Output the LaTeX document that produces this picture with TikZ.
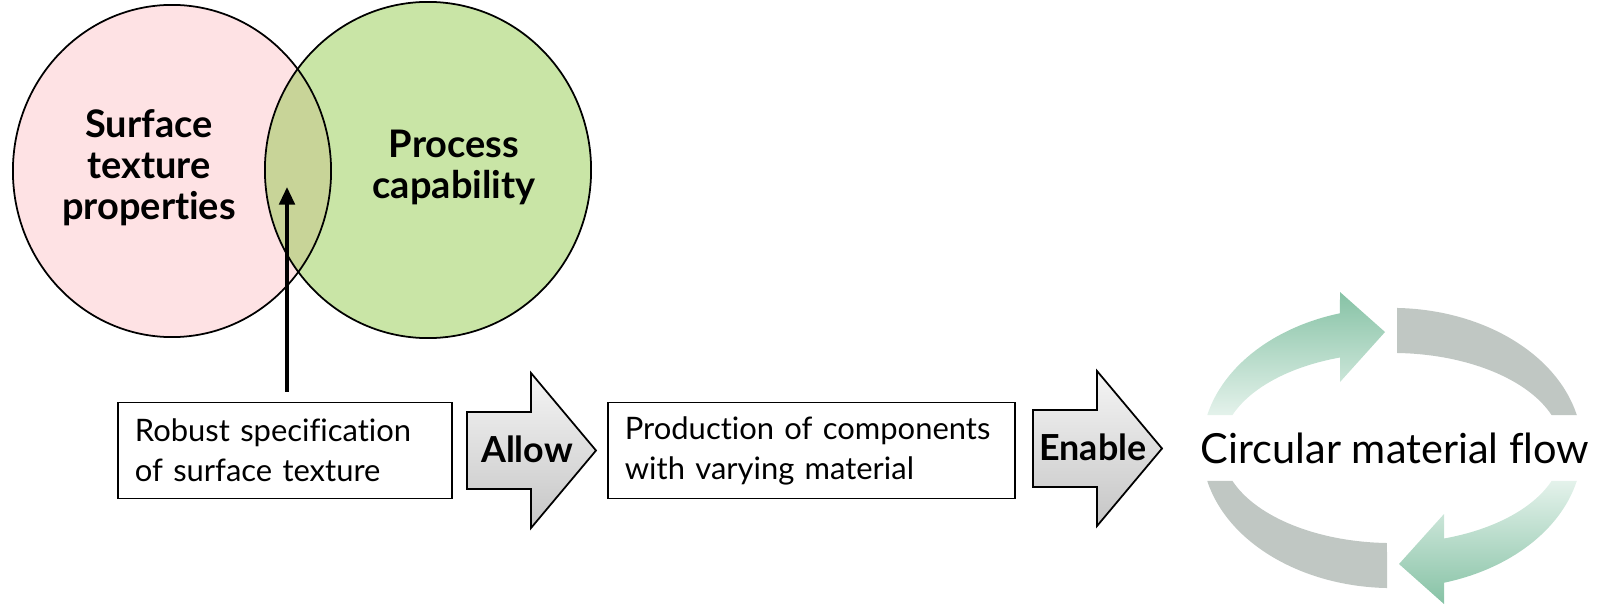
\documentclass[tikz,border=0pt]{standalone}
\usepackage{fontspec}
\setmainfont{Lato}[Ligatures=NoCommon]
\usepackage{tikz}
\usetikzlibrary{arrows.meta}
\definecolor{pinkfill}{RGB}{254,226,228}
\definecolor{greenfill}{RGB}{201,229,166}
\definecolor{overlapfill}{RGB}{200,212,152}
\definecolor{flowgreen}{RGB}{134,194,165}
\definecolor{flowlight}{RGB}{228,242,235}
\definecolor{flowgray}{RGB}{192,199,195}
\tikzset{
  venntext/.style={font=\fontsize{10.8}{11.7}\selectfont\bfseries, align=center},
  specbox/.style={draw, line width=0.5pt, fill=white, align=left, inner xsep=0.17cm,
    minimum height=0.96cm, font=\fontsize{8.8}{11.4}\selectfont},
  arrowtext/.style={font=\fontsize{10.2}{12}\selectfont\bfseries, inner sep=0pt},
  flowtext/.style={font=\fontsize{11.8}{14}\selectfont, inner sep=0pt}
}
% fat arrow: name, tail x, centre y, label
\newcommand{\fatarrow}[4]{\shade[top color=gray!8, bottom color=gray!45, draw=black, line width=0.5pt] ( #2 , #3 + 38.5 ) -- ( #2 + 64 , #3 + 38.5 ) -- ( #2 + 64 , #3 + 77.5 ) -- ( #2 + 129 , #3 ) -- ( #2 + 64 , #3 - 77.5 ) -- ( #2 + 64 , #3 - 38.5 ) -- ( #2 , #3 - 38.5 ) -- cycle; \node[arrowtext] (#1) at ( #2 + 60 , #3 + 1.5 ) {#4};}
\begin{document}
\begin{tikzpicture}[x=0.01cm,y=0.01cm]
        \useasboundingbox (0,0) rectangle (1607,606);
        % venn
        \fill[pinkfill] (172,435) ellipse[x radius=1.59cm, y radius=1.66cm];
        \fill[greenfill] (428,436) ellipse[x radius=1.63cm, y radius=1.68cm];
        \begin{scope}
          \clip (172,435) ellipse[x radius=1.59cm, y radius=1.66cm];
          \fill[overlapfill] (428,436) ellipse[x radius=1.63cm, y radius=1.68cm];
        \end{scope}
        \draw[line width=0.5pt] (172,435) ellipse[x radius=1.59cm, y radius=1.66cm];
        \draw[line width=0.5pt] (428,436) ellipse[x radius=1.63cm, y radius=1.68cm];
        \node[venntext] (surf) at (149,438) {Surface\\texture\\properties};
        \node[venntext] (proc) at (454,438.5) {Process\\capability};
        % boxes
        \node[specbox, text width=3cm] (spec) at (285,155.5) {Robust specification\\of surface texture};
        \node[specbox, text width=3.73cm] (prod) at (811.5,155.5) {Production of components\\with varying material};
        \coordinate (hit) at (287,419);
        \draw[line width=1pt, -{Triangle[length=5pt,width=4.4pt]}] ([yshift=0.1cm]spec.north -| hit) -- (hit);
        % arrows
        \fatarrow{allow}{467}{155.5}{Allow}
        \fatarrow{enable}{1033}{157.5}{Enable}
        % circular flow
        \begin{scope}[shift={(1392,158)}]
          \shade[top color=flowgreen, bottom color=flowlight] (166.4:1.9cm and 1.4cm) arc[start angle=166.4, end angle=105.9, x radius=1.9cm, y radius=1.4cm] -- (-52,156) -- (-7,116) -- (-52,66) -- (107.8:1.7cm and 0.95cm) arc[start angle=107.8, end angle=159.7, x radius=1.7cm, y radius=0.95cm] -- cycle;
          \shade[top color=flowlight, bottom color=flowgreen] (-13.6:1.9cm and 1.4cm) arc[start angle=-13.6, end angle=-74.1, x radius=1.9cm, y radius=1.4cm] -- (52,-156) -- (7,-116) -- (52,-66) -- (-72.2:1.7cm and 0.95cm) arc[start angle=-72.2, end angle=-20.3, x radius=1.7cm, y radius=0.95cm] -- cycle;
          \fill[flowgray] (88.5:1.9cm and 1.4cm) arc[start angle=88.5, end angle=13.6, x radius=1.9cm, y radius=1.4cm] -- (20.3:1.7cm and 0.95cm) arc[start angle=20.3, end angle=88.3, x radius=1.7cm, y radius=0.95cm] -- cycle;
          \fill[flowgray] (268.5:1.9cm and 1.4cm) arc[start angle=268.5, end angle=193.6, x radius=1.9cm, y radius=1.4cm] -- (200.3:1.7cm and 0.95cm) arc[start angle=200.3, end angle=268.3, x radius=1.7cm, y radius=0.95cm] -- cycle;
          \node[flowtext] (flow) at (3,0) {Circular material flow};
        \end{scope}
\end{tikzpicture}
\end{document}
